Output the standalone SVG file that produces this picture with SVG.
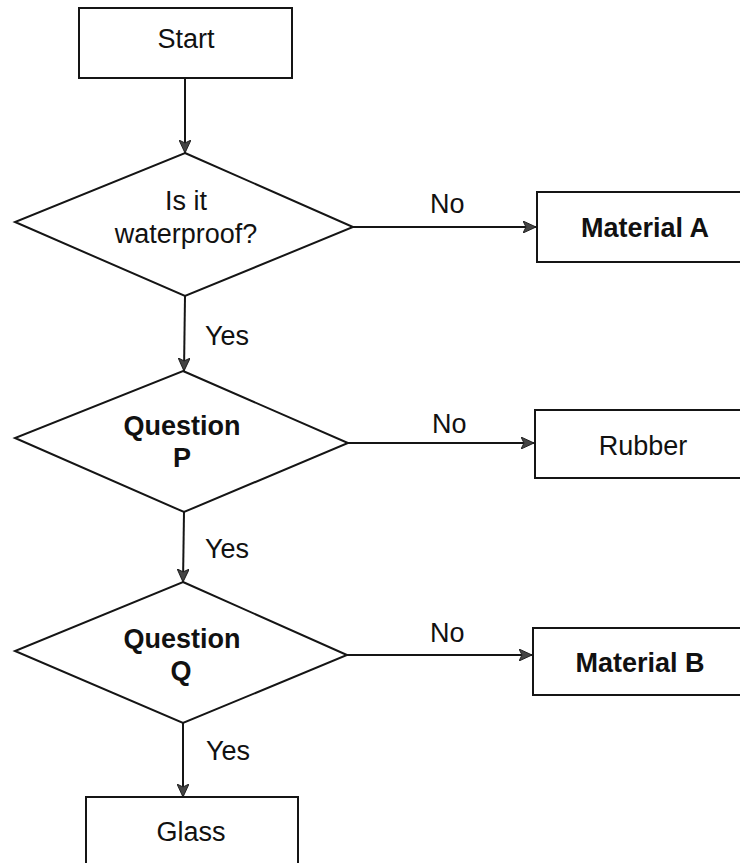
<svg xmlns="http://www.w3.org/2000/svg" width="740" height="863" viewBox="0 0 740 863">
<style>
.shape{fill:#fff;stroke:#151515;stroke-width:2}
.edge{fill:none;stroke:#151515;stroke-width:2}
text{font-family:"Liberation Sans",Arial,sans-serif;font-size:27px;fill:#111;text-anchor:middle}
.b{font-weight:bold}
.lbl{text-anchor:start}
</style>
<defs>
<marker id="arr" markerUnits="userSpaceOnUse" markerWidth="14" markerHeight="12" refX="13" refY="6" orient="auto">
<path d="M0,0 L13,6 L0,12 L3,6 Z" fill="#444" stroke="#222" stroke-width="1"/>
</marker>
</defs>
<rect width="740" height="863" fill="#fff"/>
<g id="connectors">
<line class="edge" x1="185" y1="78" x2="185" y2="153" marker-end="url(#arr)"/>
<line class="edge" x1="353" y1="227" x2="536" y2="227" marker-end="url(#arr)"/>
<line class="edge" x1="185" y1="296" x2="184" y2="371" marker-end="url(#arr)"/>
<line class="edge" x1="348" y1="443" x2="534" y2="443" marker-end="url(#arr)"/>
<line class="edge" x1="184" y1="512" x2="183" y2="582" marker-end="url(#arr)"/>
<line class="edge" x1="347" y1="655" x2="532" y2="655" marker-end="url(#arr)"/>
<line class="edge" x1="183" y1="723" x2="183" y2="797" marker-end="url(#arr)"/>
<text class="lbl" x="430" y="213">No</text>
<text class="lbl" x="205" y="345">Yes</text>
<text class="lbl" x="432" y="433">No</text>
<text class="lbl" x="205" y="558">Yes</text>
<text class="lbl" x="430" y="642">No</text>
<text class="lbl" x="206" y="760">Yes</text>
</g>
<g id="start">
<rect class="shape" x="79" y="8" width="213" height="70"/>
<text x="186" y="48">Start</text>
</g>
<g id="waterproof">
<polygon class="shape" points="185,153 353,227 185,296 15,222"/>
<text x="186" y="210">Is it</text>
<text x="186" y="243">waterproof?</text>
</g>
<g id="materialA">
<rect class="shape" x="537" y="192" width="215" height="70"/>
<text class="b" x="645" y="237">Material A</text>
</g>
<g id="questionP">
<polygon class="shape" points="183,371 348,443 184,512 15,438"/>
<text class="b" x="182" y="435">Question</text>
<text class="b" x="182" y="467">P</text>
</g>
<g id="rubber">
<rect class="shape" x="535" y="410" width="217" height="68"/>
<text x="643" y="455">Rubber</text>
</g>
<g id="questionQ">
<polygon class="shape" points="183,582 347,655 183,723 15,651"/>
<text class="b" x="182" y="648">Question</text>
<text class="b" x="181" y="680">Q</text>
</g>
<g id="materialB">
<rect class="shape" x="533" y="628" width="219" height="67"/>
<text class="b" x="640" y="672">Material B</text>
</g>
<g id="glass">
<rect class="shape" x="86" y="797" width="212" height="75"/>
<text x="191" y="841">Glass</text>
</g>
</svg>
